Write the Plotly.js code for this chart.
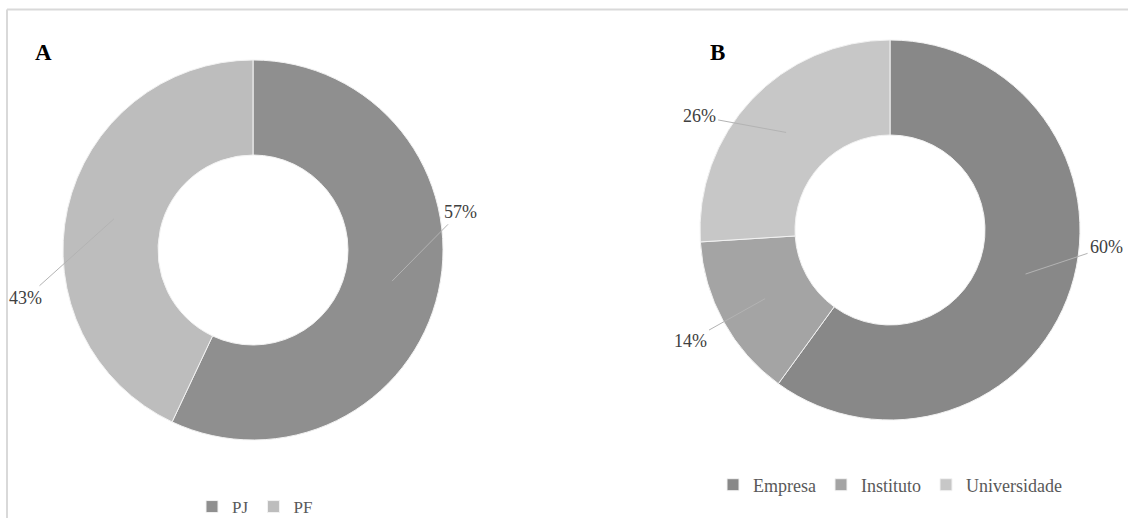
<!DOCTYPE html>
<html>
<head>
<meta charset="utf-8">
<script src="https://cdn.plot.ly/plotly-3.0.1.min.js"></script>
<style>html,body{margin:0;padding:0;background:#fff;}#chart{width:1128px;height:518px;}</style>
</head>
<body>
<div id="chart"></div>
<script>
// ---- data ----
const categoriesA = ['PJ', 'PF'];
const valuesA = [57, 43];
const categoriesB = ['Empresa', 'Instituto', 'Universidade'];
const valuesB = [60, 14, 26];
const panelLabels = ['A', 'B'];

// ---- styling / geometry ----
const W = 1128, H = 518;
const colorsA = ['#8f8f8f', '#bdbdbd'];
const colorsB = ['#888888', '#a4a4a4', '#c7c7c7'];
const R = 190;
const geomA = {cx: 253, cy: 250};
const geomB = {cx: 890, cy: 230};
const labelOffsetsA = [[68, -69], [-88, 79]];
const labelOffsetsB = [[81, -27], [-75, 42], [-87, -16]];
const FONT = 'Liberation Serif, Times New Roman, serif';

function domainFor(g) {
  return {
    x: [(g.cx - R) / W, (g.cx + R) / W],
    y: [(H - g.cy - R) / H, (H - g.cy + R) / H]
  };
}

function pieTrace(labels, values, colors, g, legendId) {
  return {
    type: 'pie', labels: labels, values: values, hole: 0.5,
    sort: false, direction: 'clockwise', rotation: 0,
    textinfo: 'none', hoverinfo: 'none',
    marker: {colors: colors, line: {color: '#f2f2f2', width: 1}},
    domain: domainFor(g), legend: legendId
  };
}

function labelAnnotations(values, g, offsets) {
  const total = values.reduce((a, b) => a + b, 0);
  let cum = 0;
  return values.map((v, i) => {
    const mid = (cum + v / 2) / total * 2 * Math.PI;
    cum += v;
    const px = g.cx + 0.75 * R * Math.sin(mid);
    const py = g.cy - 0.75 * R * Math.cos(mid);
    return {
      xref: 'paper', yref: 'paper', x: px / W, y: (H - py) / H,
      ax: offsets[i][0], ay: offsets[i][1],
      text: Math.round(v / total * 100) + '%',
      showarrow: true, arrowhead: 0, arrowwidth: 1, arrowcolor: '#b3b3b3',
      standoff: 0, startstandoff: 1,
      font: {family: FONT, size: 18, color: '#404040'}
    };
  });
}

const data = [
  pieTrace(categoriesA, valuesA, colorsA, geomA, 'legend'),
  pieTrace(categoriesB, valuesB, colorsB, geomB, 'legend2')
];

const annotations = [
  {xref: 'paper', yref: 'paper', x: 43 / W, y: (H - 52) / H, xanchor: 'center', yanchor: 'middle',
   text: '<b>' + panelLabels[0] + '</b>',
   showarrow: false, font: {family: FONT, size: 23, color: '#000'}},
  {xref: 'paper', yref: 'paper', x: 717 / W, y: (H - 52) / H, xanchor: 'center', yanchor: 'middle',
   text: '<b>' + panelLabels[1] + '</b>',
   showarrow: false, font: {family: FONT, size: 23, color: '#000'}}
].concat(labelAnnotations(valuesA, geomA, labelOffsetsA))
 .concat(labelAnnotations(valuesB, geomB, labelOffsetsB));

const layout = {
  width: W, height: H,
  margin: {l: 0, r: 0, t: 0, b: 0, autoexpand: false},
  paper_bgcolor: '#ffffff',
  showlegend: true,
  legend: {orientation: 'h', x: 255 / W, xanchor: 'center', y: 11 / H, yanchor: 'middle',
           font: {family: FONT, size: 17, color: '#595959'}, itemwidth: 30},
  legend2: {orientation: 'h', x: 890 / W, xanchor: 'center', y: 33 / H, yanchor: 'middle',
            font: {family: FONT, size: 18, color: '#595959'}, itemwidth: 30},
  annotations: annotations,
  shapes: [
    {type: 'line', xref: 'paper', yref: 'paper', x0: 7 / W, x1: 1, y0: (H - 9.5) / H, y1: (H - 9.5) / H,
     line: {color: '#d9d9d9', width: 2}},
    {type: 'line', xref: 'paper', yref: 'paper', x0: 7 / W, x1: 7 / W, y0: 0, y1: (H - 9.5) / H,
     line: {color: '#d9d9d9', width: 2}}
  ]
};

Plotly.newPlot('chart', data, layout, {displayModeBar: false, staticPlot: true});
</script>
</body>
</html>
